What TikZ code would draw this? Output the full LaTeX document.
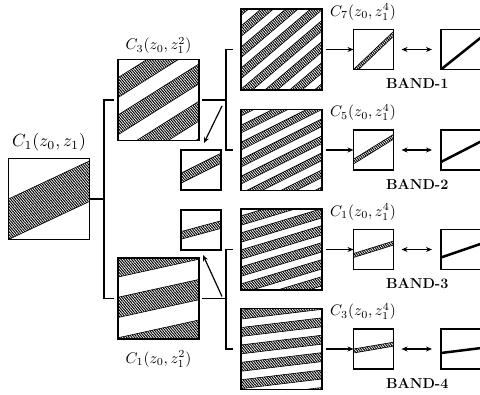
\documentclass[tikz,border=0pt]{standalone}
\usepackage{graphicx}
\usetikzlibrary{patterns.meta,arrows.meta,calc}
\newcommand\hband[3]{\path[hatch] (0,#2) -- (1,#2+#1) -- (1,#3+#1) -- (0,#3) -- cycle;}
\newcommand\stripes[4]{\foreach \k in {-9,...,9}{\hband{#1}{\k*#2+#3}{\k*#2+#3+#4}}}
\newcommand\cellfill[4]{%
 \begin{scope}
  \clip ([shift={(0.7pt,0.7pt)}]#1.south west) rectangle ([shift={(-0.7pt,-0.7pt)}]#1.north east);
  \begin{scope}[shift={(#1.south west)}, x=#2, y=#3] #4 \end{scope}
 \end{scope}}
\newcommand\mlab[1]{\scalebox{1.54}{$#1$}}
\newcommand\Mlab[1]{\scalebox{1.75}{$#1$}}
\tikzset{
 box/.style={draw, line width=1.5pt, inner sep=0pt, outer sep=0pt},
 big/.style={box, minimum width=81pt, minimum height=81pt},
 small/.style={box, line width=1.3pt, minimum width=40pt, minimum height=40pt},
 far/.style={small, minimum width=42pt},
 hatch/.style={pattern={Lines[angle=-50,distance=2pt,line width=1pt]}, draw, line width=0.6pt},
 thickline/.style={line width=2.5pt},
 conn/.style={line width=1.4pt},
 arr/.style={line width=1.2pt,-{Stealth[length=6pt,width=5pt]}},
 darr/.style={line width=1.2pt,{Stealth[length=6pt,width=5pt]}-{Stealth[length=6pt,width=5pt]}},
 lab/.style={inner sep=0pt},
 bandlab/.style={font=\fontsize{14.4}{17}\selectfont\bfseries, inner sep=0pt},
}
\begin{document}
\begin{tikzpicture}[x=1pt,y=-1pt]
\useasboundingbox (0,0) rectangle (480,395);
\clip (0,0) rectangle (480,395);
% boxes
\node[big] (L) at (49,199) {};
\node[big] (A) at (158.5,100) {};
\node[big] (B) at (158.5,298.5) {};
\node[small] (SA) at (201,170) {};
\node[small] (SB) at (201,230) {};
\node[big] (R1) at (281.5,49.5) {};
\node[big] (R2) at (281.5,150) {};
\node[big] (R3) at (281.5,249.5) {};
\node[big] (R4) at (281.5,349) {};
\node[small] (S1) at (373.5,49.5) {};
\node[small] (S2) at (373.5,150) {};
\node[small] (S3) at (373.5,249.5) {};
\node[small] (S4) at (373.5,349) {};
\node[far] (F1) at (462,49.5) {};
\node[far] (F2) at (462,150) {};
\node[far] (F3) at (462,249.5) {};
\node[far] (F4) at (462,349) {};
% band contents
\cellfill{L}{81pt}{81pt}{\hband{0.47}{0}{0.5}}
\cellfill{A}{81pt}{81pt}{\stripes{0.63}{0.46}{0.07}{0.245}}
\cellfill{B}{81pt}{81pt}{\stripes{0.22}{0.5}{0.265}{0.25}}
\cellfill{SA}{40pt}{40pt}{\hband{0.5}{0.17}{0.42}}
\cellfill{SB}{40pt}{40pt}{\hband{0.27}{0.27}{0.46}}
\cellfill{R1}{81pt}{81pt}{\stripes{0.85}{0.26}{-0.12}{0.13}}
\cellfill{R2}{81pt}{81pt}{\stripes{0.5}{0.21}{0.08}{0.095}}
\cellfill{R3}{81pt}{81pt}{\stripes{0.3}{0.21}{0.17}{0.115}}
\cellfill{R4}{81pt}{81pt}{\stripes{0.12}{0.215}{0.225}{0.11}}
\cellfill{S1}{40pt}{40pt}{\hband{0.95}{-0.12}{0.0}}
\cellfill{S2}{40pt}{40pt}{\hband{0.62}{0.15}{0.27}}
\cellfill{S3}{40pt}{40pt}{\hband{0.31}{0.3}{0.4}}
\cellfill{S4}{40pt}{40pt}{\hband{0.17}{0.4}{0.5}}
\cellfill{F1}{42pt}{40pt}{\draw[thickline] (0,0) -- (1,0.84);}
\cellfill{F2}{42pt}{40pt}{\draw[thickline] (0,0.2) -- (1,0.74);}
\cellfill{F3}{42pt}{40pt}{\draw[thickline] (0,0.3) -- (1,0.66);}
\cellfill{F4}{42pt}{40pt}{\draw[thickline] (0,0.4) -- (1,0.53);}
% labels
\node[lab] (lL) at ([yshift=16pt]L.north) {\Mlab{C_1(z_0,z_1)}};
\node[lab] (lA) at ([yshift=14pt]A.north) {\mlab{C_3(z_0,z_1^2)}};
\node[lab] (lB) at ([yshift=-20pt]B.south) {\mlab{C_1(z_0,z_1^2)}};
\node[lab,anchor=west] (l1) at ([xshift=8pt,yshift=-3pt]R1.north east) {\mlab{C_7(z_0,z_1^4)}};
\node[lab,anchor=west] (l2) at ([xshift=8pt,yshift=-3pt]R2.north east) {\mlab{C_5(z_0,z_1^4)}};
\node[lab,anchor=west] (l3) at ([xshift=8pt,yshift=-3pt]R3.north east) {\mlab{C_1(z_0,z_1^4)}};
\node[lab,anchor=west] (l4) at ([xshift=8pt,yshift=-3pt]R4.north east) {\mlab{C_3(z_0,z_1^4)}};
\foreach \i in {1,...,4}{
  \node[bandlab] (b\i) at ([yshift=-14pt]$(S\i.south east)!0.5!(F\i.south west)$) {BAND-\i};
  \draw[arr] ([xshift=4pt]R\i.east) -- (S\i.west);
  \draw[darr] ([xshift=8pt]S\i.east) -- ([xshift=-9pt]F\i.west);
}
% connectors
\coordinate (j1) at (104,199);
\draw[conn] (L.east) -- (j1);
\draw[conn] ([xshift=-4pt]A.west) -| (j1) |- ([xshift=-4pt]B.west);
\coordinate (j2) at (226,100);
\draw[conn] ([xshift=3pt]A.east) -- (j2);
\draw[conn] ([xshift=-8pt]R1.west) -| (j2) |- ([xshift=-8pt]R2.west);
\coordinate (j3) at (226,298.5);
\draw[conn] ([xshift=3pt]B.east) -- (j3);
\draw[conn] ([xshift=-8pt]R3.west) -| (j3) |- ([xshift=-8pt]R4.west);
\draw[arr] ([shift={(-4pt,-6pt)}]j2) -- ([shift={(3pt,7pt)}]SA.north);
\draw[arr] ([shift={(-4pt,2pt)}]j3) -- ([shift={(2pt,-5pt)}]SB.south);
\end{tikzpicture}
\end{document}
